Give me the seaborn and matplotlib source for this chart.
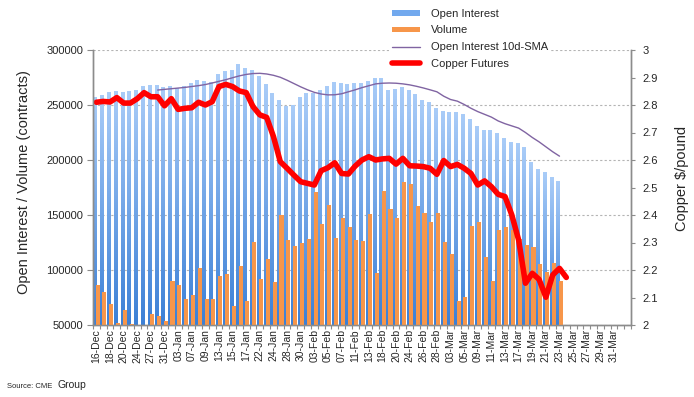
import numpy as np
import pandas as pd
import matplotlib
matplotlib.use("Agg")
import matplotlib.pyplot as plt
import seaborn as sns
from matplotlib.patches import Patch
from matplotlib.lines import Line2D
from matplotlib.colors import LinearSegmentedColormap

# ---------------------------------------------------------------
# estilo
# ---------------------------------------------------------------
sns.set_theme(style="white")
plt.rcParams['font.family'] = ['Liberation Sans', 'DejaVu Sans']

# ---------------------------------------------------------------
# datos
# ---------------------------------------------------------------
# eje x: dias de negociacion + dias de calendario al final
feriados = pd.to_datetime(['2019-12-25', '2020-01-01', '2020-01-20', '2020-02-17'])
dias_trading = pd.bdate_range('2019-12-16', '2020-03-20').drop(feriados)
dias_extra = pd.date_range('2020-03-21', '2020-03-31')
fechas = dias_trading.append(dias_extra).strftime('%d-%b').tolist()

open_interest = [
    256600, 259000, 261000, 262700, 261000, 262700, 263600, 267000, 268000, 268000,
    266000, 267000, 265000, 267000, 270000, 272700, 271000, 270600, 277600, 280900,
    281800, 286400, 283300, 281800, 275500, 268200, 260300, 254500, 248200, 249400,
    256400, 260900, 260300, 263600, 266700, 270900, 269100, 268200, 269100, 269700,
    271800, 274200, 274200, 263600, 264500, 265500, 263000, 260000, 254500, 252700,
    246700, 243900, 243000, 243000, 241800, 237000, 230900, 226700, 226700, 224200,
    219100, 215800, 215200, 211500, 197600, 191800, 188800, 183900, 180900,
]

volume = [
    86400, 80000, 69100, 51800, 63600, 50900, 45000, 42000, 60000, 58200,
    53600, 90000, 86400, 73600, 77300, 101800, 73600, 73600, 94500, 96400,
    67300, 103600, 71800, 125500, 91800, 110000, 89100, 150000, 127300, 121800,
    124500, 128200, 170900, 141800, 159100, 129100, 147300, 139100, 127300, 126400,
    150900, 97300, 171800, 155500, 147300, 180000, 178200, 158200, 151800, 143600,
    151800, 125500, 114500, 71800, 75500, 140000, 143600, 111800, 90000, 136400,
    139100, 136400, 128000, 122700, 120900, 105500, 98200, 106400, 90000,
]

# media movil de 10 dias, empieza en la decima sesion
sma_inicio = 9
oi_sma = [
    263600, 264200, 264800, 265400, 266000, 266800, 267600, 268600, 270000, 271500,
    273000, 274800, 276500, 277800, 278600, 278800, 278200, 277000, 275200, 272500,
    269500, 266500, 263800, 261500, 260000, 259200, 259300, 260200, 262000, 263800,
    265800, 267500, 269200, 269800, 270000, 269800, 269200, 268300, 267000, 265500,
    263800, 262000, 258000, 255000, 253500, 250500, 247000, 244000, 241500, 239000,
    235500, 233000, 231000, 229000, 225000, 220500, 216500, 212000, 207500, 203500,
]

copper = [
    2.810, 2.813, 2.811, 2.827, 2.807, 2.807, 2.823, 2.845, 2.830, 2.830,
    2.797, 2.823, 2.784, 2.788, 2.790, 2.810, 2.800, 2.812, 2.867, 2.875,
    2.867, 2.851, 2.845, 2.794, 2.764, 2.755, 2.685, 2.594, 2.570, 2.545,
    2.521, 2.515, 2.509, 2.561, 2.572, 2.590, 2.551, 2.549, 2.578, 2.600,
    2.612, 2.600, 2.604, 2.606, 2.585, 2.606, 2.579, 2.578, 2.576, 2.570,
    2.548, 2.598, 2.576, 2.584, 2.570, 2.551, 2.509, 2.524, 2.503, 2.475,
    2.467, 2.400, 2.309, 2.152, 2.188, 2.166, 2.101, 2.182, 2.206, 2.173,
]

AZUL_ABAJO = '#3c80d6'
AZUL_ARRIBA = '#a9ccf8'
NARANJA = '#f7964a'
MORADO = '#8064a2'
ROJO = '#ff0000'
GRIS = '#8c8c8c'

# ---------------------------------------------------------------
# figura
# ---------------------------------------------------------------
fig = plt.figure(figsize=(6.94, 3.97), dpi=100)
ax = fig.add_axes([93 / 694, 1 - 325 / 397, 538 / 694, 275 / 397])

# barras de open interest (con degradado)
df_oi = pd.DataFrame({'fecha': fechas[:len(open_interest)], 'valor': open_interest})
sns.barplot(data=df_oi, x='fecha', y='valor', order=fechas, width=0.58,
            color=AZUL_ABAJO, saturation=1, errorbar=None, linewidth=0, ax=ax)
barras_oi = list(ax.patches)

cmap_oi = LinearSegmentedColormap.from_list('oi', [AZUL_ABAJO, AZUL_ARRIBA])
grad = np.linspace(0, 1, 128).reshape(-1, 1)
for b in barras_oi:
    b.set_x(b.get_x() - 0.16)
    b.set_facecolor('none')
    b.set_edgecolor('none')
    x0, w, h = b.get_x(), b.get_width(), b.get_height()
    ax.imshow(grad, origin='lower', extent=[x0, x0 + w, 50000, h], aspect='auto',
              cmap=cmap_oi, interpolation='bilinear', zorder=1.6)

# barras de volumen
n_antes = len(ax.patches)
df_vol = pd.DataFrame({'fecha': fechas[:len(volume)], 'valor': volume})
sns.barplot(data=df_vol, x='fecha', y='valor', order=fechas, width=0.6,
            color=NARANJA, saturation=1, errorbar=None, linewidth=0, ax=ax)
for b in ax.patches[n_antes:]:
    b.set_x(b.get_x() + 0.18)
    b.set_edgecolor('none')
    b.set_linewidth(0)
    b.set_zorder(3)

# media movil
sns.lineplot(x=np.arange(sma_inicio, sma_inicio + len(oi_sma)), y=oi_sma, ax=ax,
             color=MORADO, linewidth=1.0, zorder=4)

# cobre en eje derecho
ax2 = ax.twinx()
sns.lineplot(x=np.arange(len(copper)), y=copper, ax=ax2, color=ROJO, linewidth=4)
for ln in ax2.lines:
    ln.set_solid_joinstyle('round')

# ---------------------------------------------------------------
# ejes
# ---------------------------------------------------------------
ax.set_xlim(-0.5, len(fechas) + 1.5)
ax.set_ylim(50000, 300000)
ax.set_yticks(range(50000, 300001, 50000))
ax.set_yticklabels([str(v) for v in range(50000, 300001, 50000)], fontsize=8)
ax.set_xticks(range(0, len(fechas), 2))
ax.set_xticklabels(fechas[::2], rotation=90, fontsize=7.5)
ax.set_xticks(np.arange(-0.5, len(fechas) + 2, 1), minor=True)
ax.set_xlabel('')
ax.set_ylabel('')
ax.tick_params(axis='x', which='major', length=0, pad=3, bottom=True)
ax.tick_params(axis='x', which='minor', length=3, color=GRIS, width=0.8, bottom=True)
ax.tick_params(axis='y', length=4, color=GRIS, width=0.8, pad=3, left=True)
ax.yaxis.grid(True, linestyle=(0, (2, 2)), color='#b4b4b4', linewidth=0.8)
ax.xaxis.grid(False)
ax.set_axisbelow(True)

ax2.set_ylim(2, 3)
ticks_der = np.round(np.arange(2, 3.001, 0.1), 1)
ax2.set_yticks(ticks_der)
ax2.set_yticklabels([f'{t:g}' for t in ticks_der], fontsize=8)
ax2.set_ylabel('')
ax2.tick_params(axis='y', length=3, color=GRIS, width=0.8, pad=5, right=True)
ax2.grid(False)

for a in (ax, ax2):
    a.spines['top'].set_visible(False)
    for s in ('left', 'bottom', 'right'):
        a.spines[s].set_color(GRIS)
        a.spines[s].set_linewidth(1.0)

fig.text(24 / 694, 1 - 182 / 397, 'Open Interest / Volume (contracts)', rotation=90,
         ha='center', va='center', fontsize=10.5)
fig.text(682 / 694, 1 - 178 / 397, 'Copper $/pound', rotation=90,
         ha='center', va='center', fontsize=10.5)

# leyenda
handles = [
    Patch(facecolor='#72a9ee', edgecolor='none'),
    Patch(facecolor=NARANJA, edgecolor='none'),
    Line2D([], [], color=MORADO, linewidth=1.0),
    Line2D([], [], color=ROJO, linewidth=4),
]
labels = ['Open Interest', 'Volume', 'Open Interest 10d-SMA', 'Copper Futures']
fig.legend(handles, labels, loc='upper left', bbox_to_anchor=(389 / 694, 1 - 6 / 397),
           frameon=True, facecolor='white', edgecolor='none', framealpha=1, fancybox=False,
           fontsize=8, handlelength=2.5, handleheight=0.45, handletextpad=1.0,
           labelspacing=0.6, borderpad=0.25, borderaxespad=0)

# fuente
fig.text(7 / 694, 1 - 386 / 397, 'Source: CME', fontsize=5.5, va='center', ha='left')
fig.text(57 / 694, 1 - 385 / 397, 'Group', fontsize=7.5, va='center', ha='left')

fig.savefig('out.png', dpi=100)
